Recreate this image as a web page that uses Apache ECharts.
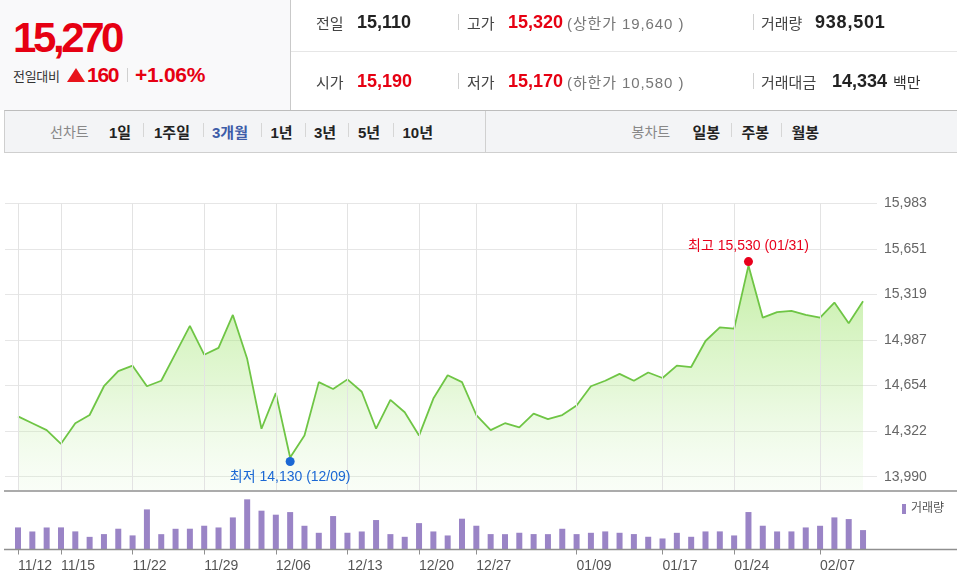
<!DOCTYPE html>
<html>
<head>
<meta charset="utf-8">
<script src="https://cdn.jsdelivr.net/npm/echarts/dist/echarts.min.js"></script>
<style>
  html,body{margin:0;padding:0;background:#fff;}
  #wrap{position:relative;width:957px;height:587px;overflow:hidden;background:#fff;}
  #chart{position:absolute;left:0;top:0;width:957px;height:587px;}
  .a{position:absolute;white-space:nowrap;line-height:1;font-family:"Liberation Sans","Noto Sans CJK KR",sans-serif;z-index:3;}
  .b{font-weight:bold;}
  .red{color:#e60012;}
  .dk{color:#222;}
  .lb{color:#444;}
  .gy{color:#777;}
  .box{position:absolute;z-index:2;}
  .vd{position:absolute;width:1px;z-index:3;}
</style>
</head>
<body>
<div id="wrap">
  <div id="chart"></div>

  <!-- left summary box -->
  <div class="box" style="left:0;top:0;width:290px;height:110px;background:#f9f9fa;border-right:1px solid #c9c9c9;"></div>
  <div class="a b red" style="left:13px;top:17px;font-size:42px;letter-spacing:-3.4px;">15,270</div>
  <div class="a" style="left:13px;top:69.5px;font-size:13px;color:#333;letter-spacing:-0.3px;">전일대비</div>
  <div class="a" style="left:67px;top:68px;width:0;height:0;border-left:9px solid transparent;border-right:9px solid transparent;border-bottom:14px solid #e8141b;"></div>
  <div class="a b red" style="left:87px;top:63.9px;font-size:21px;letter-spacing:-1.3px;">160</div>
  <div class="vd" style="left:127px;top:68px;height:14px;background:#d0d0d0;"></div>
  <div class="a b red" style="left:135px;top:63.9px;font-size:21px;letter-spacing:-0.3px;">+1.06%</div>

  <!-- right info rows -->
  <div class="box" style="left:291px;top:51px;width:666px;height:1px;background:#e6e6e6;"></div>

  <div class="a lb" style="left:316px;top:15.6px;font-size:15px;">전일</div>
  <div class="a b dk" style="left:357px;top:13.1px;font-size:18px;">15,110</div>
  <div class="vd" style="left:458px;top:14px;height:16px;background:#d0d0d0;"></div>
  <div class="a lb" style="left:467px;top:15.6px;font-size:15px;">고가</div>
  <div class="a b red" style="left:508px;top:13.1px;font-size:18px;">15,320</div>
  <div class="a gy" style="left:567px;top:15.6px;font-size:15px;letter-spacing:0.9px;">(상한가 19,640 )</div>
  <div class="vd" style="left:753px;top:14px;height:16px;background:#d0d0d0;"></div>
  <div class="a lb" style="left:761px;top:15.6px;font-size:15px;">거래량</div>
  <div class="a b dk" style="left:815px;top:13.1px;font-size:18px;letter-spacing:0.8px;">938,501</div>

  <div class="a lb" style="left:316px;top:74.6px;font-size:15px;">시가</div>
  <div class="a b red" style="left:357px;top:72.1px;font-size:18px;">15,190</div>
  <div class="vd" style="left:458px;top:73px;height:16px;background:#d0d0d0;"></div>
  <div class="a lb" style="left:467px;top:74.6px;font-size:15px;">저가</div>
  <div class="a b red" style="left:508px;top:72.1px;font-size:18px;">15,170</div>
  <div class="a gy" style="left:567px;top:74.6px;font-size:15px;letter-spacing:0.9px;">(하한가 10,580 )</div>
  <div class="vd" style="left:753px;top:73px;height:16px;background:#d0d0d0;"></div>
  <div class="a lb" style="left:761px;top:74.6px;font-size:15px;">거래대금</div>
  <div class="a b dk" style="left:832px;top:72.1px;font-size:18px;">14,334</div>
  <div class="a" style="left:893px;top:74.6px;font-size:15px;color:#333;">백만</div>

  <!-- toolbar -->
  <div class="box" style="left:4px;top:110px;width:952px;height:41px;background:#f3f4f6;border-top:1px solid #bdbdbd;border-bottom:1px solid #cfcfcf;border-left:1px solid #cfcfcf;"></div>
  <div class="vd" style="left:485px;top:111px;height:41px;background:#d0d0d0;"></div>

  <div class="a" style="left:50px;top:125.3px;font-size:14px;color:#888;">선차트</div>
  <div class="a b dk" style="left:109px;top:124.5px;font-size:15px;">1일</div>
  <div class="vd" style="left:143px;top:123px;height:14px;background:#d6d6d6;"></div>
  <div class="a b dk" style="left:154px;top:124.5px;font-size:15px;">1주일</div>
  <div class="vd" style="left:203px;top:123px;height:14px;background:#d6d6d6;"></div>
  <div class="a b" style="left:212px;top:124.5px;font-size:15px;color:#3d5ca8;">3개월</div>
  <div class="vd" style="left:261px;top:123px;height:14px;background:#d6d6d6;"></div>
  <div class="a b dk" style="left:270.5px;top:124.5px;font-size:15px;">1년</div>
  <div class="vd" style="left:305px;top:123px;height:14px;background:#d6d6d6;"></div>
  <div class="a b dk" style="left:314px;top:124.5px;font-size:15px;">3년</div>
  <div class="vd" style="left:348px;top:123px;height:14px;background:#d6d6d6;"></div>
  <div class="a b dk" style="left:358px;top:124.5px;font-size:15px;">5년</div>
  <div class="vd" style="left:392.5px;top:123px;height:14px;background:#d6d6d6;"></div>
  <div class="a b dk" style="left:402.5px;top:124.5px;font-size:15px;">10년</div>

  <div class="a" style="left:631.5px;top:125.3px;font-size:14px;color:#888;">봉차트</div>
  <div class="a b dk" style="left:692.5px;top:124.5px;font-size:15px;">일봉</div>
  <div class="vd" style="left:731px;top:123px;height:14px;background:#d6d6d6;"></div>
  <div class="a b dk" style="left:741.5px;top:124.5px;font-size:15px;">주봉</div>
  <div class="vd" style="left:781px;top:123px;height:14px;background:#d6d6d6;"></div>
  <div class="a b dk" style="left:791.5px;top:124.5px;font-size:15px;">월봉</div>
</div>

<script>
// ---------------- data ----------------
const categories = ['11/12','11/13','11/14','11/15','11/18','11/19','11/20','11/21','11/22','11/25',
  '11/26','11/27','11/28','11/29','12/02','12/03','12/04','12/05','12/06','12/09',
  '12/10','12/11','12/12','12/13','12/16','12/17','12/18','12/19','12/20','12/23',
  '12/24','12/26','12/27','12/30','01/02','01/03','01/06','01/07','01/08','01/09',
  '01/10','01/13','01/14','01/15','01/16','01/17','01/20','01/21','01/22','01/23',
  '01/24','01/31','02/03','02/04','02/05','02/06','02/07','02/10','02/11','02/12'];

const tickLabels = ['11/12','11/15','11/22','11/29','12/06','12/13','12/20','12/27','01/09','01/17','01/24','02/07'];

const prices = [14430,14380,14330,14230,14380,14440,14650,14760,14800,14650,
  14690,14890,15090,14880,14930,15170,14850,14340,14600,14130,
  14290,14680,14630,14700,14610,14340,14550,14460,14290,14560,
  14730,14680,14440,14330,14380,14350,14450,14410,14440,14510,
  14650,14690,14740,14690,14750,14710,14800,14790,14980,15080,
  15070,15530,15150,15190,15200,15170,15150,15260,15110,15270];

const volumes = [1068000,872000,1065000,1070000,876000,612000,745000,1005000,682000,1940000,
  742000,1002000,1006000,1150000,1066000,1552000,2427000,1878000,1684000,1810000,
  1148000,808000,1618000,810000,872000,1425000,744000,614000,1276000,873000,
  679000,1490000,1150000,745000,742000,810000,746000,743000,1003000,744000,
  808000,875000,809000,746000,616000,534000,807000,615000,874000,876000,
  680000,1812000,1150000,873000,875000,1067000,1148000,1553000,1472000,938501];

const yTickLabels = ['13,990','14,322','14,654','14,987','15,319','15,651','15,983'];

// ---------------- derived ----------------
const FONT = 'Liberation Sans, Noto Sans CJK KR, sans-serif';
const yVals = yTickLabels.map(s => +s.replace(/,/g, ''));
const yMin = yVals[0], yMax = yVals[yVals.length - 1];
const yInterval = Math.ceil((yMax - yMin) / (yVals.length - 1) * 1e4) / 1e4;

const PLOT_TOP = 203.5, LABEL_BOTTOM = 476.7, PRICE_BOTTOM = 490, VOL_TOP = 491, VOL_BASE = 549.5;
const DATA_LEFT = 10.85, DATA_RIGHT = 86.8;
const unitsPerPx = (yMax - yMin) / (LABEL_BOTTOM - PLOT_TOP);
const priceAxisMin = yMax - (PRICE_BOTTOM - PLOT_TOP) * unitsPerPx;
const volAxisMax = 2830000;

const tickIdx = tickLabels.map(l => categories.indexOf(l));
const isTick = (i) => tickIdx.indexOf(i) >= 0;
const maxVal = Math.max.apply(null, prices), minVal = Math.min.apply(null, prices);
const maxIdx = prices.indexOf(maxVal), minIdx = prices.indexOf(minVal);
const fmt = n => n.toLocaleString('en-US');

const chart = echarts.init(document.getElementById('chart'), null, {renderer: 'canvas'});
chart.setOption({
  animation: false,
  backgroundColor: '#ffffff',
  grid: [
    {left: DATA_LEFT, right: DATA_RIGHT, top: PLOT_TOP, height: PRICE_BOTTOM - PLOT_TOP},
    {left: 5, right: 80, top: PLOT_TOP, height: LABEL_BOTTOM - PLOT_TOP},
    {left: DATA_LEFT, right: DATA_RIGHT, top: VOL_TOP, height: VOL_BASE - VOL_TOP}
  ],
  legend: {
    data: ['거래량'], left: 902, top: 503, padding: 0, icon: 'rect',
    itemWidth: 4, itemHeight: 10, selectedMode: false,
    textStyle: {fontSize: 12, color: '#555', fontFamily: FONT}
  },
  xAxis: [
    {gridIndex: 0, type: 'category', data: categories, boundaryGap: true, show: false},
    {gridIndex: 1, type: 'value', min: 0, max: 1, show: false},
    {gridIndex: 2, type: 'category', data: categories, boundaryGap: true,
      axisLine: {show: false},
      axisTick: {show: true, alignWithLabel: true, interval: isTick, length: 5, lineStyle: {color: '#8f8f8f'}},
      axisLabel: {interval: isTick, align: 'left', margin: 10, color: '#555', fontSize: 14, fontFamily: FONT},
      splitLine: {show: false}}
  ],
  yAxis: [
    {gridIndex: 0, type: 'value', min: priceAxisMin, max: yMax, show: false},
    {gridIndex: 1, type: 'value', position: 'right', min: yMin, max: yMax, interval: yInterval,
      axisLine: {show: false}, axisTick: {show: false},
      axisLabel: {margin: 7, color: '#666', fontSize: 14, fontFamily: FONT,
        formatter: (v, i) => yTickLabels[i] !== undefined ? yTickLabels[i] : ''},
      splitLine: {show: true, lineStyle: {color: '#e6e6e6', width: 1}}},
    {gridIndex: 2, type: 'value', min: 0, max: volAxisMax, show: false}
  ],
  graphic: [
    {type: 'line', silent: true, z: 10, shape: {x1: 4, y1: VOL_TOP, x2: 957, y2: VOL_TOP}, style: {stroke: '#8f8f8f', lineWidth: 1.5}},
    {type: 'line', silent: true, z: 10, shape: {x1: 4, y1: VOL_BASE, x2: 957, y2: VOL_BASE}, style: {stroke: '#8f8f8f', lineWidth: 1.5}}
  ],
  series: [
    {
      name: '가격', type: 'line', xAxisIndex: 0, yAxisIndex: 0, data: prices,
      symbol: 'none', smooth: false, silent: true,
      lineStyle: {color: '#6fc545', width: 1.8},
      areaStyle: {
        origin: 'start',
        color: new echarts.graphic.LinearGradient(0, 0, 0, 1, [
          {offset: 0, color: 'rgba(150,225,95,0.8)'},
          {offset: 0.5, color: 'rgba(175,233,135,0.52)'},
          {offset: 1, color: 'rgba(215,245,200,0.2)'}
        ])
      },
      markLine: {
        silent: true, symbol: 'none', animation: false,
        label: {show: false}, emphasis: {disabled: true},
        lineStyle: {color: '#e3e3e3', type: 'solid', width: 1},
        data: tickIdx.map(i => ({xAxis: categories[i]}))
      },
      markPoint: {
        silent: true, animation: false,
        data: [
          {coord: [categories[maxIdx], maxVal], symbol: 'circle', symbolSize: 9, symbolOffset: [0, -4],
            itemStyle: {color: '#e8001c'},
            label: {show: true, position: 'top', distance: 4, color: '#e8001c', fontSize: 14, fontFamily: FONT,
              formatter: '최고 ' + fmt(maxVal) + ' (' + categories[maxIdx] + ')'}},
          {coord: [categories[minIdx], minVal], symbol: 'circle', symbolSize: 9, symbolOffset: [0, 4],
            itemStyle: {color: '#1b68d4'},
            label: {show: true, position: 'bottom', distance: 4, color: '#1b68d4', fontSize: 14, fontFamily: FONT,
              formatter: '최저 ' + fmt(minVal) + ' (' + categories[minIdx] + ')'}}
        ]
      }
    },
    {
      name: '거래량', type: 'bar', xAxisIndex: 2, yAxisIndex: 2, data: volumes,
      barWidth: 6, silent: true, itemStyle: {color: '#9a84c6'}
    }
  ]
});
</script>
</body>
</html>
